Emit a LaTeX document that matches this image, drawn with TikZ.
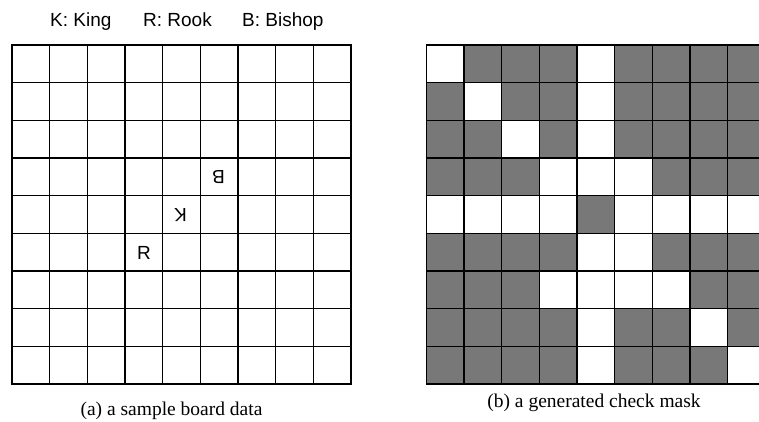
\documentclass[tikz,border=0pt]{standalone}
\usepackage{fontspec}
\setmainfont{Liberation Serif}
\setsansfont{Liberation Sans}
\definecolor{maskgray}{RGB}{120,120,120}
\begin{document}
\begin{tikzpicture}[x=1pt,y=-1pt,
  cell/.style={draw=black,line width=1.3pt,minimum size=37.67pt,inner sep=0pt,outer sep=0pt,anchor=north west},
  hitcell/.style={cell,fill=maskgray},
  freecell/.style={cell,fill=white},
  piece/.style={font=\sffamily\fontsize{19}{19}\selectfont,inner sep=0pt},
  legend/.style={font=\sffamily\fontsize{19}{19}\selectfont,anchor=base west,inner sep=0pt},
  capt/.style={font=\fontsize{19.5}{20}\selectfont,anchor=base,inner sep=0pt}]
\useasboundingbox (0,0) rectangle (759,421);
\clip (0,0) rectangle (759,421);
% legend
\node[legend] (lk) at (50,26.7) {K: King};
\node[legend] (lr) at (143,26.7) {R: Rook};
\node[legend] (lb) at (242,26.7) {B: Bishop};
% left board
\foreach \r in {0,...,8}{
  \foreach \c in {0,...,8}{
    \node[freecell] (a-\r-\c) at ({12+37.67*\c},{45+37.67*\r}) {};
  }
}
\node[piece] (rook) at (144,252.5) {R};
\node[piece,rotate=180] (king) at (180.5,215) {K};
\node[piece,rotate=180] (bishop) at (218.5,177.5) {B};
% right board (check mask)
\foreach \r/\row in {0/{0,1,1,1,0,1,1,1,1},
                     1/{1,0,1,1,0,1,1,1,1},
                     2/{1,1,0,1,0,1,1,1,1},
                     3/{1,1,1,0,0,0,1,1,1},
                     4/{0,0,0,0,1,0,0,0,0},
                     5/{1,1,1,1,0,0,1,1,1},
                     6/{1,1,1,0,0,0,0,1,1},
                     7/{1,1,1,1,0,1,1,0,1},
                     8/{1,1,1,1,0,1,1,1,0}}{
  \foreach \v [count=\c from 0] in \row {
    \ifnum\v=1
      \node[hitcell] (b-\r-\c) at ({426.3+37.67*\c},{45+37.67*\r}) {};
    \else
      \node[freecell] (b-\r-\c) at ({426.3+37.67*\c},{45+37.67*\r}) {};
    \fi
  }
}
% captions
\node[capt] (capa) at (171.5,415) {(a) a sample board data};
\node[capt] (capb) at (594,407.5) {(b) a generated check mask};
\end{tikzpicture}
\end{document}
